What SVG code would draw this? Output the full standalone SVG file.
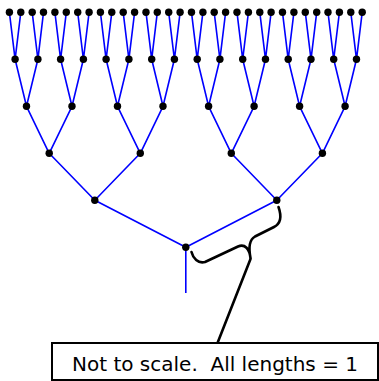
<svg xmlns="http://www.w3.org/2000/svg" width="379" height="381" viewBox="0 0 379 381">
<style>
.e{fill:none;stroke:#0000ff;stroke-width:1.6;stroke-linejoin:round}
.n{fill:#000}
.b{fill:none;stroke:#000;stroke-width:2.6;stroke-linecap:round;stroke-linejoin:round}
.box{fill:#fff;stroke:#000;stroke-width:2}
.t{font-family:"DejaVu Sans",Verdana,sans-serif;font-size:20px;fill:#000;white-space:pre}
</style>
<rect width="379" height="381" fill="#fff"/>
<g id="connectors">
<path class="e" d="M 9.4 12.3 L 15.1 59.3 L 20.8 12.3 M 32.2 12.3 L 37.9 59.3 L 43.5 12.3 M 54.9 12.3 L 60.6 59.3 L 66.3 12.3 M 77.7 12.3 L 83.4 59.3 L 89.1 12.3 M 100.4 12.3 L 106.1 59.3 L 111.8 12.3 M 123.2 12.3 L 128.9 59.3 L 134.6 12.3 M 146 12.3 L 151.7 59.3 L 157.3 12.3 M 168.7 12.3 L 174.4 59.3 L 180.1 12.3 M 191.5 12.3 L 197.2 59.3 L 202.9 12.3 M 214.2 12.3 L 219.9 59.3 L 225.6 12.3 M 237 12.3 L 242.7 59.3 L 248.4 12.3 M 259.8 12.3 L 265.5 59.3 L 271.1 12.3 M 282.5 12.3 L 288.2 59.3 L 293.9 12.3 M 305.3 12.3 L 311 59.3 L 316.7 12.3 M 328 12.3 L 333.7 59.3 L 339.4 12.3 M 350.8 12.3 L 356.5 59.3 L 362.2 12.3
M 15.1 59.3 L 26.5 106.3 L 37.9 59.3 M 60.6 59.3 L 72 106.3 L 83.4 59.3 M 106.1 59.3 L 117.5 106.3 L 128.9 59.3 M 151.7 59.3 L 163 106.3 L 174.4 59.3 M 197.2 59.3 L 208.6 106.3 L 219.9 59.3 M 242.7 59.3 L 254.1 106.3 L 265.5 59.3 M 288.2 59.3 L 299.6 106.3 L 311 59.3 M 333.7 59.3 L 345.1 106.3 L 356.5 59.3
M 26.5 106.3 L 49.2 153.3 L 72 106.3 M 117.5 106.3 L 140.3 153.3 L 163 106.3 M 208.6 106.3 L 231.3 153.3 L 254.1 106.3 M 299.6 106.3 L 322.4 153.3 L 345.1 106.3
M 49.2 153.3 L 94.8 200.3 L 140.3 153.3 M 231.3 153.3 L 276.8 200.3 L 322.4 153.3
M 94.8 200.3 L 185.8 247.3 L 276.8 200.3 M 185.8 247.3 L 185.8 293"/>
<path class="b" d="M 191.5 252 C 193 258, 198 264, 205 262 L 238 246.5 C 245 243.5, 249.5 249, 250.5 258 C 248.5 248, 249 240, 255 236.5 L 274 227 C 280 224, 282 217, 278.5 207"/>
<path class="b" d="M 217.5 343 L 250.5 259"/>
</g>
<g id="leaves">
<g id="n5-0"><circle class="n" cx="9.4" cy="12.3" r="3.7"/></g>
<g id="n5-1"><circle class="n" cx="20.8" cy="12.3" r="3.7"/></g>
<g id="n5-2"><circle class="n" cx="32.2" cy="12.3" r="3.7"/></g>
<g id="n5-3"><circle class="n" cx="43.5" cy="12.3" r="3.7"/></g>
<g id="n5-4"><circle class="n" cx="54.9" cy="12.3" r="3.7"/></g>
<g id="n5-5"><circle class="n" cx="66.3" cy="12.3" r="3.7"/></g>
<g id="n5-6"><circle class="n" cx="77.7" cy="12.3" r="3.7"/></g>
<g id="n5-7"><circle class="n" cx="89.1" cy="12.3" r="3.7"/></g>
<g id="n5-8"><circle class="n" cx="100.4" cy="12.3" r="3.7"/></g>
<g id="n5-9"><circle class="n" cx="111.8" cy="12.3" r="3.7"/></g>
<g id="n5-10"><circle class="n" cx="123.2" cy="12.3" r="3.7"/></g>
<g id="n5-11"><circle class="n" cx="134.6" cy="12.3" r="3.7"/></g>
<g id="n5-12"><circle class="n" cx="146" cy="12.3" r="3.7"/></g>
<g id="n5-13"><circle class="n" cx="157.3" cy="12.3" r="3.7"/></g>
<g id="n5-14"><circle class="n" cx="168.7" cy="12.3" r="3.7"/></g>
<g id="n5-15"><circle class="n" cx="180.1" cy="12.3" r="3.7"/></g>
<g id="n5-16"><circle class="n" cx="191.5" cy="12.3" r="3.7"/></g>
<g id="n5-17"><circle class="n" cx="202.9" cy="12.3" r="3.7"/></g>
<g id="n5-18"><circle class="n" cx="214.2" cy="12.3" r="3.7"/></g>
<g id="n5-19"><circle class="n" cx="225.6" cy="12.3" r="3.7"/></g>
<g id="n5-20"><circle class="n" cx="237" cy="12.3" r="3.7"/></g>
<g id="n5-21"><circle class="n" cx="248.4" cy="12.3" r="3.7"/></g>
<g id="n5-22"><circle class="n" cx="259.8" cy="12.3" r="3.7"/></g>
<g id="n5-23"><circle class="n" cx="271.1" cy="12.3" r="3.7"/></g>
<g id="n5-24"><circle class="n" cx="282.5" cy="12.3" r="3.7"/></g>
<g id="n5-25"><circle class="n" cx="293.9" cy="12.3" r="3.7"/></g>
<g id="n5-26"><circle class="n" cx="305.3" cy="12.3" r="3.7"/></g>
<g id="n5-27"><circle class="n" cx="316.7" cy="12.3" r="3.7"/></g>
<g id="n5-28"><circle class="n" cx="328" cy="12.3" r="3.7"/></g>
<g id="n5-29"><circle class="n" cx="339.4" cy="12.3" r="3.7"/></g>
<g id="n5-30"><circle class="n" cx="350.8" cy="12.3" r="3.7"/></g>
<g id="n5-31"><circle class="n" cx="362.2" cy="12.3" r="3.7"/></g>
</g>
<g id="level4">
<g id="n4-0"><circle class="n" cx="15.1" cy="59.3" r="3.7"/></g>
<g id="n4-1"><circle class="n" cx="37.9" cy="59.3" r="3.7"/></g>
<g id="n4-2"><circle class="n" cx="60.6" cy="59.3" r="3.7"/></g>
<g id="n4-3"><circle class="n" cx="83.4" cy="59.3" r="3.7"/></g>
<g id="n4-4"><circle class="n" cx="106.1" cy="59.3" r="3.7"/></g>
<g id="n4-5"><circle class="n" cx="128.9" cy="59.3" r="3.7"/></g>
<g id="n4-6"><circle class="n" cx="151.7" cy="59.3" r="3.7"/></g>
<g id="n4-7"><circle class="n" cx="174.4" cy="59.3" r="3.7"/></g>
<g id="n4-8"><circle class="n" cx="197.2" cy="59.3" r="3.7"/></g>
<g id="n4-9"><circle class="n" cx="219.9" cy="59.3" r="3.7"/></g>
<g id="n4-10"><circle class="n" cx="242.7" cy="59.3" r="3.7"/></g>
<g id="n4-11"><circle class="n" cx="265.5" cy="59.3" r="3.7"/></g>
<g id="n4-12"><circle class="n" cx="288.2" cy="59.3" r="3.7"/></g>
<g id="n4-13"><circle class="n" cx="311" cy="59.3" r="3.7"/></g>
<g id="n4-14"><circle class="n" cx="333.7" cy="59.3" r="3.7"/></g>
<g id="n4-15"><circle class="n" cx="356.5" cy="59.3" r="3.7"/></g>
</g>
<g id="level3">
<g id="n3-0"><circle class="n" cx="26.5" cy="106.3" r="3.7"/></g>
<g id="n3-1"><circle class="n" cx="72" cy="106.3" r="3.7"/></g>
<g id="n3-2"><circle class="n" cx="117.5" cy="106.3" r="3.7"/></g>
<g id="n3-3"><circle class="n" cx="163" cy="106.3" r="3.7"/></g>
<g id="n3-4"><circle class="n" cx="208.6" cy="106.3" r="3.7"/></g>
<g id="n3-5"><circle class="n" cx="254.1" cy="106.3" r="3.7"/></g>
<g id="n3-6"><circle class="n" cx="299.6" cy="106.3" r="3.7"/></g>
<g id="n3-7"><circle class="n" cx="345.1" cy="106.3" r="3.7"/></g>
</g>
<g id="level2">
<g id="n2-0"><circle class="n" cx="49.2" cy="153.3" r="3.7"/></g>
<g id="n2-1"><circle class="n" cx="140.3" cy="153.3" r="3.7"/></g>
<g id="n2-2"><circle class="n" cx="231.3" cy="153.3" r="3.7"/></g>
<g id="n2-3"><circle class="n" cx="322.4" cy="153.3" r="3.7"/></g>
</g>
<g id="level1">
<g id="n1-0"><circle class="n" cx="94.8" cy="200.3" r="3.7"/></g>
<g id="n1-1"><circle class="n" cx="276.8" cy="200.3" r="3.7"/></g>
</g>
<g id="root"><circle class="n" cx="185.8" cy="247.3" r="3.7"/></g>
<g id="label">
<rect class="box" x="52" y="343" width="326" height="37"/>
<text class="t" x="215" y="371" text-anchor="middle" xml:space="preserve">Not to scale.  All lengths = 1</text>
</g>
</svg>
